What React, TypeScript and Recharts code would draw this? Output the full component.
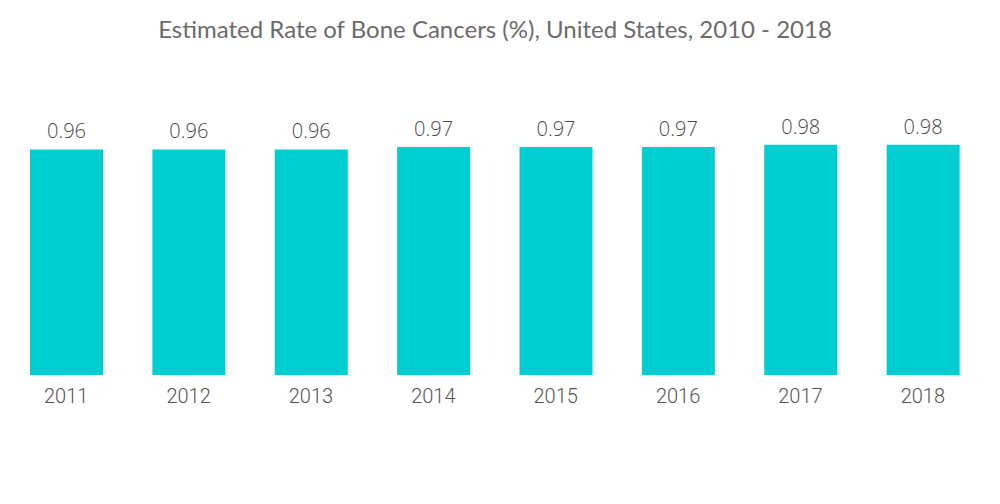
import { BarChart, Bar, XAxis, YAxis, LabelList } from 'recharts';

const years = ['2011', '2012', '2013', '2014', '2015', '2016', '2017', '2018'];
const rates = [0.96, 0.96, 0.96, 0.97, 0.97, 0.97, 0.98, 0.98];

const data = years.map((year, i) => ({ year, rate: rates[i] }));

export default function App() {
  return (
    <div style={{ position: 'absolute', left: 0, top: 0, width: 1000, height: 504, background: '#fff' }}>
      <div
        style={{
          position: 'absolute',
          top: 14,
          left: 0,
          width: 990,
          textAlign: 'center',
          fontFamily: 'Lato, sans-serif',
          fontSize: 24,
          color: '#6b6b6b',
        }}
      >
        Estimated Rate of Bone Cancers (%), United States, 2010 - 2018
      </div>
      <BarChart width={1000} height={504} data={data} margin={{ top: 140, right: 16, left: 5, bottom: 99 }}>
        <XAxis
          dataKey="year"
          axisLine={false}
          tickLine={false}
          tick={{ fontSize: 20, fill: '#555', fontFamily: 'Roboto, sans-serif', fontWeight: 300 }}
          tickMargin={8}
        />
        <YAxis hide domain={[0, 1]} />
        <Bar dataKey="rate" fill="#00ced1" barSize={73} isAnimationActive={false}>
          <LabelList
            dataKey="rate"
            position="top"
            offset={11}
            style={{ fontSize: 20, fill: '#4a4a4a', fontFamily: '"Open Sans", sans-serif', fontWeight: 300 }}
          />
        </Bar>
      </BarChart>
    </div>
  );
}
